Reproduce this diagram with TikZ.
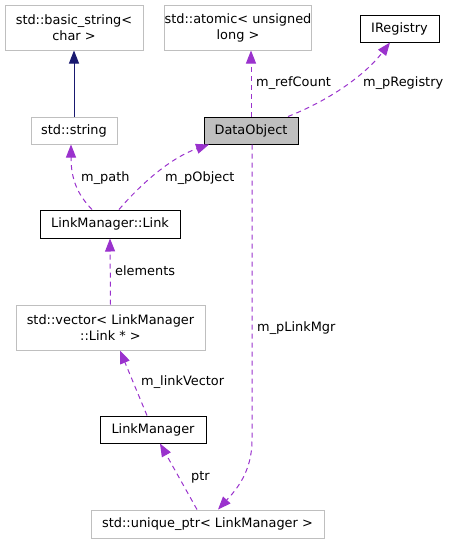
\documentclass[tikz,border=0pt]{standalone}
\usepackage{fontspec}
\setmainfont{DejaVu Sans}
\usetikzlibrary{arrows.meta}
\definecolor{edgep}{HTML}{9A32CD}
\definecolor{edgen}{HTML}{191970}
\definecolor{boxg}{HTML}{BFBFBF}
\begin{document}
\begin{tikzpicture}[x=1pt,y=-1pt,
  every node/.style={font=\fontsize{12.9}{16}\selectfont, inner sep=0pt, align=center},
  gbox/.style={draw=boxg, line width=1pt, fill=white},
  bbox/.style={draw=black, line width=1pt, fill=white},
  lab/.style={anchor=west},
  rel/.style={draw=edgep, line width=1pt, dash pattern=on 5pt off 4pt, -{Triangle[length=13pt,width=10pt,fill=edgep]}},
  inh/.style={draw=edgen, line width=1pt, -{Triangle[length=13pt,width=10pt,fill=edgen]}}]
\useasboundingbox (0,0) rectangle (450,544);
\node[gbox, minimum width=138pt, minimum height=45pt] (bstr) at (74,27.5) {std::basic\_string<\\char >};
\node[gbox, minimum width=142pt, minimum height=45pt] (atom) at (238,27.5) {std::atomic< unsigned\\long >};
\node[bbox, minimum width=79pt, minimum height=27pt] (ireg) at (399.5,28.5) {IRegistry};
\node[gbox, minimum width=86pt, minimum height=27pt] (sstr) at (74,130.5) {std::string};
\node[bbox, fill=boxg, minimum width=94pt, minimum height=27pt] (dobj) at (251,130.5) {DataObject};
\node[bbox, minimum width=140pt, minimum height=28pt] (link) at (110,224) {LinkManager::Link};
\node[gbox, minimum width=189pt, minimum height=45pt] (vect) at (110.5,327.5) {std::vector< LinkManager\\::Link * >};
\node[bbox, minimum width=106pt, minimum height=27pt] (lmgr) at (153,429.5) {LinkManager};
\node[gbox, minimum width=233pt, minimum height=28pt] (uptr) at (207.5,524) {std::unique\_ptr< LinkManager >};

\draw[inh] (sstr.north) -- (bstr.south);
\draw[rel] (dobj.north) -- (atom.south -| dobj.north);
\draw[rel] ([xshift=37pt]dobj.north) .. controls (330,100) and (365,75) .. ([xshift=-9.5pt]ireg.south);
\draw[rel] ([xshift=-18pt]link.north) .. controls (78,195) and (71,180) .. ([xshift=-3pt]sstr.south);
\draw[rel] ([xshift=9pt]link.north) .. controls (140,185) and (170,158) .. ([xshift=-42pt]dobj.south);
\coordinate (bend) at (252,440);
\draw[rel] ([xshift=1pt]dobj.south) -- (bend) .. controls (252,472) and (236,490) .. ([xshift=10.5pt]uptr.north);
\draw[rel] (vect.north) -- (link.south);
\draw[rel] ([xshift=-6pt]lmgr.north) -- ([xshift=9.5pt]vect.south);
\draw[rel] ([xshift=-10.5pt]uptr.north) -- ([xshift=7pt]lmgr.south);

\node[lab] (l1) at (256,83) {m\_refCount};
\node[lab] (l2) at (363,83) {m\_pRegistry};
\node[lab] (l3) at (81,178) {m\_path};
\node[lab] (l4) at (165,178) {m\_pObject};
\node[lab] (l5) at (257,328) {m\_pLinkMgr};
\node[lab] (l6) at (115,271) {elements};
\node[lab] (l7) at (141,382) {m\_linkVector};
\node[lab] (l8) at (191,477) {ptr};
\end{tikzpicture}
\end{document}
